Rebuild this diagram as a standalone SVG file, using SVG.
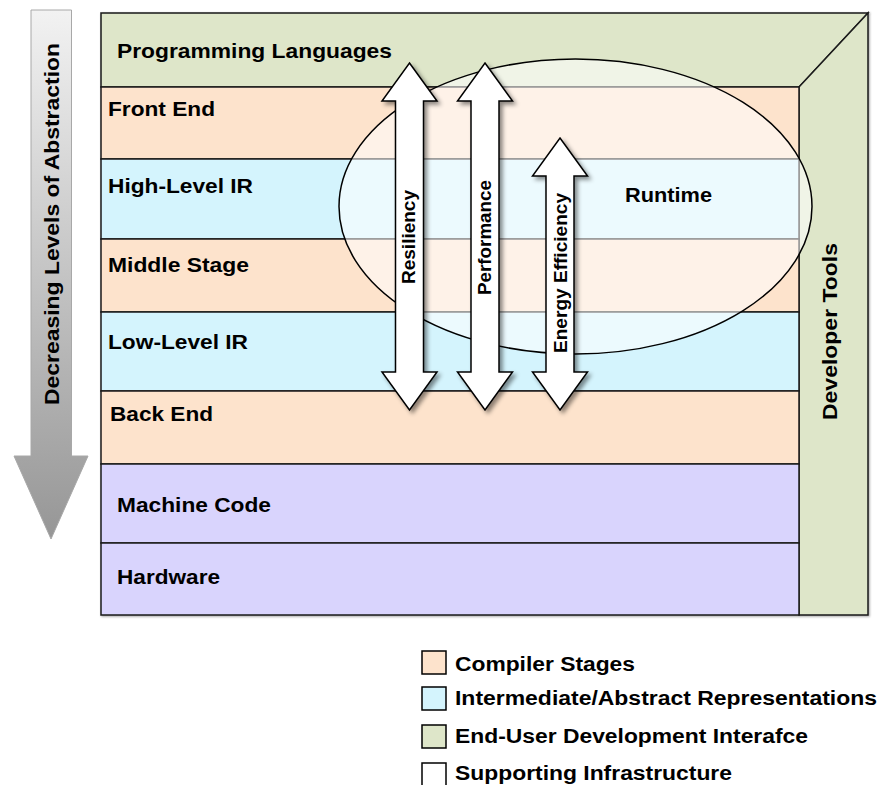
<svg xmlns="http://www.w3.org/2000/svg" width="883" height="785" viewBox="0 0 883 785">
  <style>
    .lbl { font-family: "Liberation Sans", Arial, sans-serif; font-weight: bold; font-size: 21px; fill: #000; }
    .alb { font-family: "Liberation Sans", Arial, sans-serif; font-weight: bold; font-size: 17.5px; fill: #000; }
    .leg { font-family: "Liberation Sans", Arial, sans-serif; font-weight: bold; font-size: 20px; fill: #000; }
    .band { stroke: #1a1a1a; stroke-width: 1.5; }
    .stage { fill: #fde3cc; }
    .ir { fill: #d4f4fd; }
    .user { fill: #dee6c9; }
    .mach { fill: #d9d4fd; }
    .dbl { fill: #ffffff; stroke: #000; stroke-width: 1.5; stroke-linejoin: miter; }
    .key { stroke: #000; stroke-width: 1.5; }
  </style>
  <defs>
    <linearGradient id="absGrad" x1="0" y1="10" x2="0" y2="540" gradientUnits="userSpaceOnUse">
      <stop offset="0" stop-color="#f2f2f2"/>
      <stop offset="1" stop-color="#969696"/>
    </linearGradient>
    <filter id="shadow" x="-30%" y="-10%" width="160%" height="120%">
      <feDropShadow dx="3" dy="3" stdDeviation="2" flood-color="#000" flood-opacity="0.45"/>
    </filter>
    <filter id="soft" x="-5%" y="-5%" width="110%" height="110%">
      <feDropShadow dx="1" dy="1" stdDeviation="1" flood-color="#000" flood-opacity="0.35"/>
    </filter>
  </defs>

  <!-- abstraction direction arrow -->
  <g id="abstraction-arrow">
    <path d="M31,10 H71.5 V456 H88 L51,539 L14,456 H31 Z" fill="url(#absGrad)" stroke="#a8a8a8" stroke-width="1"/>
    <text class="lbl" transform="translate(59,224) rotate(-90)" text-anchor="middle" textLength="362" lengthAdjust="spacingAndGlyphs">Decreasing Levels of Abstraction</text>
  </g>

  <!-- layered stack -->
  <g id="stack" filter="url(#soft)">
    <g id="programming-languages">
      <polygon class="band user" points="101,13 868,13 799,87 101,87"/>
    </g>
    <g id="developer-tools">
      <polygon class="band user" points="868,13 868,615 799,615 799,87"/>
    </g>
    <g id="front-end">
      <rect class="band stage" x="101" y="87" width="698" height="72"/>
    </g>
    <g id="high-level-ir">
      <rect class="band ir" x="101" y="159" width="698" height="80"/>
    </g>
    <g id="middle-stage">
      <rect class="band stage" x="101" y="239" width="698" height="73"/>
    </g>
    <g id="low-level-ir">
      <rect class="band ir" x="101" y="312" width="698" height="79"/>
    </g>
    <g id="back-end">
      <rect class="band stage" x="101" y="391" width="698" height="73"/>
    </g>
    <g id="machine-code">
      <rect class="band mach" x="101" y="464" width="698" height="79"/>
    </g>
    <g id="hardware">
      <rect class="band mach" x="101" y="543" width="698" height="72"/>
    </g>
  </g>

  <!-- runtime region overlaying the stack -->
  <g id="runtime">
    <ellipse cx="575.5" cy="206.5" rx="236.5" ry="147.5" fill="#ffffff" fill-opacity="0.55" stroke="#000" stroke-width="1.5"/>
  </g>

  <!-- cross-cutting concerns -->
  <g id="connectors" filter="url(#shadow)">
    <path id="resiliency" class="dbl" d="M409.5,63 L437,101 L423.5,101 L423.5,372 L437,372 L409.5,410 L382,372 L395.5,372 L395.5,101 L382,101 Z"/>
    <path id="performance" class="dbl" d="M485,63 L512.5,101 L499,101 L499,372 L512.5,372 L485,410 L457.5,372 L471,372 L471,101 L457.5,101 Z"/>
    <path id="energy-efficiency" class="dbl" d="M560,138 L587.5,176 L574,176 L574,372 L587.5,372 L560,410 L532.5,372 L546,372 L546,176 L532.5,176 Z"/>
  </g>

  <!-- labels -->
  <g id="labels">
    <text class="lbl" x="117" y="58" textLength="275" lengthAdjust="spacingAndGlyphs">Programming Languages</text>
    <text class="lbl" x="108" y="116" textLength="107" lengthAdjust="spacingAndGlyphs">Front End</text>
    <text class="lbl" x="108" y="193" textLength="145" lengthAdjust="spacingAndGlyphs">High-Level IR</text>
    <text class="lbl" x="108" y="272" textLength="141" lengthAdjust="spacingAndGlyphs">Middle Stage</text>
    <text class="lbl" x="108" y="349" textLength="140" lengthAdjust="spacingAndGlyphs">Low-Level IR</text>
    <text class="lbl" x="110" y="421" textLength="103" lengthAdjust="spacingAndGlyphs">Back End</text>
    <text class="lbl" x="117" y="512" textLength="154" lengthAdjust="spacingAndGlyphs">Machine Code</text>
    <text class="lbl" x="117" y="584" textLength="103" lengthAdjust="spacingAndGlyphs">Hardware</text>
    <text class="lbl" x="668.5" y="202" text-anchor="middle" textLength="87" lengthAdjust="spacingAndGlyphs">Runtime</text>
    <text class="lbl" transform="translate(837,331.5) rotate(-90)" text-anchor="middle" textLength="177" lengthAdjust="spacingAndGlyphs">Developer Tools</text>
    <text class="alb" transform="translate(415,237) rotate(-90)" text-anchor="middle" textLength="94" lengthAdjust="spacingAndGlyphs">Resiliency</text>
    <text class="alb" transform="translate(491,237.5) rotate(-90)" text-anchor="middle" textLength="115" lengthAdjust="spacingAndGlyphs">Performance</text>
    <text class="alb" transform="translate(567,273) rotate(-90)" text-anchor="middle" textLength="160" lengthAdjust="spacingAndGlyphs">Energy Efficiency</text>
  </g>

  <!-- legend -->
  <g id="legend">
    <g id="legend-compiler">
      <rect class="key stage" x="422" y="651" width="24" height="23"/>
      <text class="leg" x="455" y="671" textLength="180" lengthAdjust="spacingAndGlyphs">Compiler Stages</text>
    </g>
    <g id="legend-ir">
      <rect class="key ir" x="422" y="687" width="24" height="23"/>
      <text class="leg" x="455" y="705" textLength="422" lengthAdjust="spacingAndGlyphs">Intermediate/Abstract Representations</text>
    </g>
    <g id="legend-user">
      <rect class="key user" x="422" y="725" width="24" height="23"/>
      <text class="leg" x="455" y="743" textLength="353" lengthAdjust="spacingAndGlyphs">End-User Development Interafce</text>
    </g>
    <g id="legend-infra">
      <rect class="key" fill="#ffffff" x="422" y="763" width="24" height="23"/>
      <text class="leg" x="455" y="780" textLength="277" lengthAdjust="spacingAndGlyphs">Supporting Infrastructure</text>
    </g>
  </g>
</svg>
